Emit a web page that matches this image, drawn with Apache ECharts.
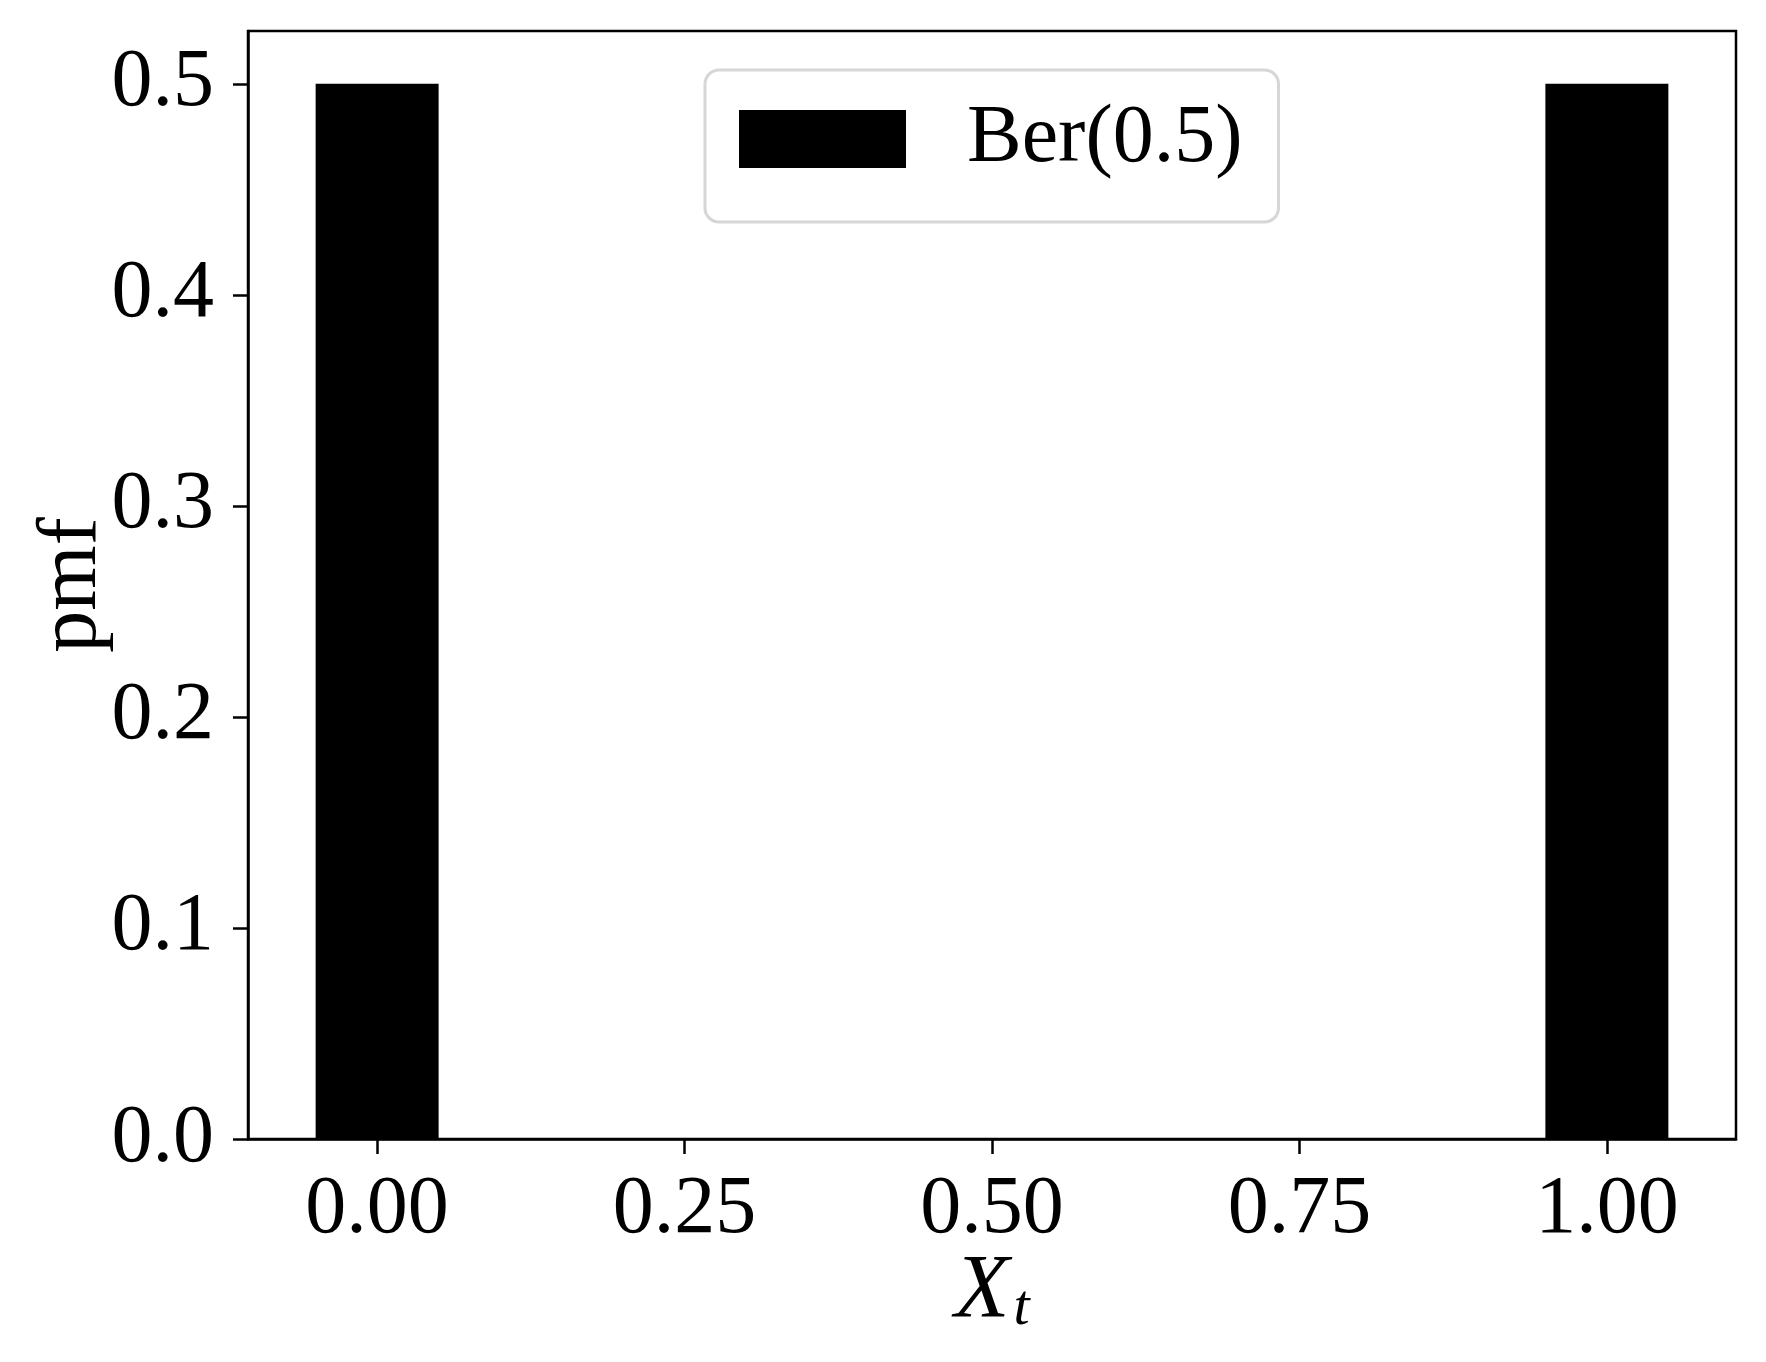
<!DOCTYPE html>
<html>
<head>
<meta charset="utf-8">
<script src="https://cdn.jsdelivr.net/npm/echarts@6/dist/echarts.min.js"></script>
<style>
html,body{margin:0;padding:0;background:#fff;}
#chart{width:1766px;height:1362px;}
</style>
</head>
<body>
<div id="chart"></div>
<script>
// Data
const seriesName = 'Ber(0.5)';
const xValues = [0, 1];
const pmfValues = [0.5, 0.5];
const barWidthData = 0.1;
const xTicks = [0, 0.25, 0.5, 0.75, 1.0];
const xTickLabels = ['0.00', '0.25', '0.50', '0.75', '1.00'];
const yTicks = [0, 0.1, 0.2, 0.3, 0.4, 0.5];
const yTickLabels = ['0.0', '0.1', '0.2', '0.3', '0.4', '0.5'];
const xRange = [-0.105, 1.105];
const yRange = [0, 0.525];

const FONT = 'Liberation Serif';
const chart = echarts.init(document.getElementById('chart'), null, {renderer: 'canvas'});

const data = xValues.map((x, i) => [x, pmfValues[i]]);

chart.setOption({
  animation: false,
  backgroundColor: '#fff',
  grid: {
    left: 248, top: 31, right: 30, bottom: 223,
    show: true, borderColor: '#000', borderWidth: 2.5, backgroundColor: 'transparent'
  },
  legend: {
    data: [{name: seriesName, icon: 'rect'}],
    left: 705, top: 70,
    orient: 'horizontal',
    itemWidth: 167, itemHeight: 58,
    padding: [28, 36, 42, 34],
    borderColor: '#d6d6d6', borderWidth: 3, borderRadius: 14,
    backgroundColor: '#fff',
    textStyle: {fontFamily: FONT, fontSize: 82, color: '#000', padding: [0, 0, 0, 56]},
    selectedMode: false
  },
  xAxis: {
    type: 'value',
    min: xRange[0], max: xRange[1],
    name: '{i|X}{s|t}',
    nameLocation: 'middle',
    nameGap: 109,
    nameMoveOverlap: false,
    nameTextStyle: {
      verticalAlign: 'top',
      rich: {
        i: {fontFamily: FONT, fontStyle: 'italic', fontSize: 90, color: '#000'},
        s: {fontFamily: FONT, fontStyle: 'italic', fontSize: 58, color: '#000', verticalAlign: 'bottom', padding: [30, 0, 0, 4]}
      }
    },
    axisLine: {show: true, onZero: false, lineStyle: {color: '#000', width: 2.5}},
    axisTick: {show: true, inside: false, length: 15, lineStyle: {color: '#000', width: 2.5}, customValues: xTicks},
    axisLabel: {
      show: true, margin: 30, color: '#000', fontFamily: FONT, fontSize: 82,
      customValues: xTicks,
      formatter: function (v) {
        const idx = xTicks.findIndex(t => Math.abs(t - v) < 1e-9);
        return idx >= 0 ? xTickLabels[idx] : '';
      }
    },
    splitLine: {show: false}
  },
  yAxis: {
    type: 'value',
    min: yRange[0], max: yRange[1],
    name: 'pmf',
    nameLocation: 'middle',
    nameGap: 133,
    nameMoveOverlap: false,
    nameRotate: 90,
    nameTextStyle: {fontFamily: FONT, fontSize: 84, color: '#000'},
    axisLine: {show: true, onZero: false, lineStyle: {color: '#000', width: 2.5}},
    axisTick: {show: true, inside: false, length: 15, lineStyle: {color: '#000', width: 2.5}, customValues: yTicks},
    axisLabel: {
      show: true, margin: 34, color: '#000', fontFamily: FONT, fontSize: 82,
      customValues: yTicks,
      formatter: function (v) {
        const idx = yTicks.findIndex(t => Math.abs(t - v) < 1e-9);
        return idx >= 0 ? yTickLabels[idx] : '';
      }
    },
    splitLine: {show: false}
  },
  series: [{
    name: seriesName,
    type: 'custom',
    itemStyle: {color: '#000'},
    data: data,
    encode: {x: 0, y: 1},
    renderItem: function (params, api) {
      const x = api.value(0), h = api.value(1);
      const p0 = api.coord([x - barWidthData / 2, h]);
      const p1 = api.coord([x + barWidthData / 2, 0]);
      return {
        type: 'rect',
        shape: {x: p0[0], y: p0[1], width: p1[0] - p0[0], height: p1[1] - p0[1]},
        style: {fill: '#000'}
      };
    }
  }]
});
</script>
</body>
</html>
